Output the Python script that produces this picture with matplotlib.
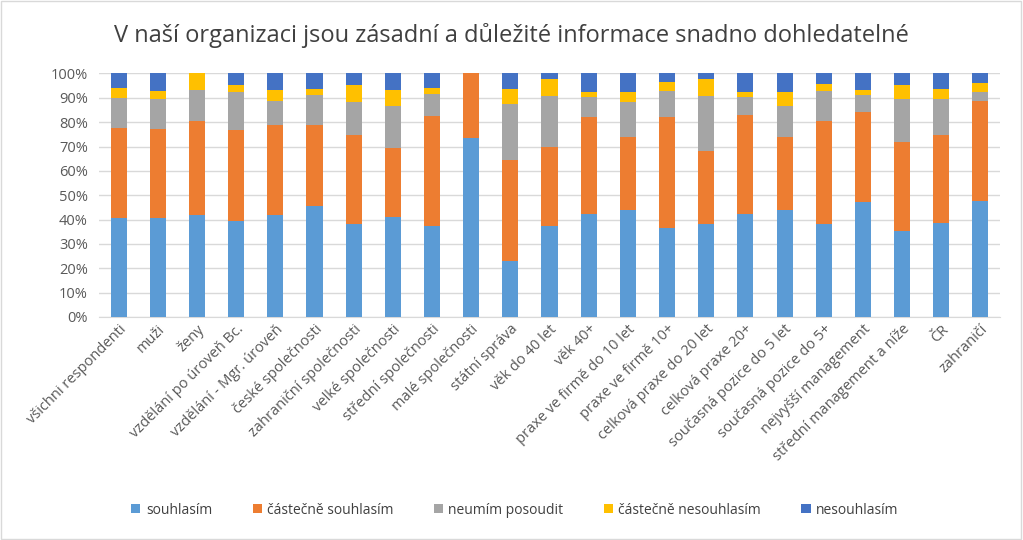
import matplotlib.pyplot as plt
import numpy as np
from matplotlib.patches import Rectangle
from matplotlib.ticker import PercentFormatter

plt.rcParams['font.family'] = ['Open Sans', 'DejaVu Sans']

categories = ['všichni respondenti', 'muži', 'ženy', 'vzdělání po úroveň Bc.',
              'vzdělání - Mgr. úroveň', 'české společnosti', 'zahraniční společnosti',
              'velké společnosti', 'střední společnosti', 'malé společnosti',
              'státní správa', 'věk do 40 let', 'věk 40+', 'praxe ve firmě do 10 let',
              'praxe ve firmě 10+', 'celková praxe do 20 let', 'celková praxe 20+',
              'současná pozice do 5 let', 'současná pozice do 5+', 'nejvyšší management',
              'střední management a níže', 'ČR', 'zahraničí']

souhlasim = [40.5, 40.7, 41.9, 39.6, 41.9, 45.7, 38.0, 41.1, 37.2, 73.5, 23.1, 37.2,
             42.4, 44.1, 36.5, 38.0, 42.2, 44.1, 38.0, 47.1, 35.2, 38.6, 47.8]
castecne_souhlasim = [37.1, 36.4, 38.7, 37.0, 37.1, 33.3, 36.6, 28.3, 45.4, 26.5, 41.5, 32.4,
                      39.7, 29.9, 45.6, 30.1, 40.9, 29.9, 42.6, 37.1, 36.7, 36.1, 40.9]
neumim = [12.5, 12.2, 12.8, 15.6, 9.6, 12.3, 13.7, 17.3, 8.9, 0.0, 23.0, 21.1,
          8.3, 14.3, 10.8, 22.6, 7.3, 12.7, 12.3, 7.1, 17.4, 15.0, 3.6]
castecne_nesouhlasim = [4.0, 3.3, 6.6, 3.1, 4.7, 2.2, 6.9, 6.4, 2.6, 0.0, 6.1, 7.0,
                        2.0, 4.1, 3.7, 7.0, 2.0, 5.7, 2.7, 1.8, 6.0, 4.0, 3.7]
nesouhlasim = [5.9, 7.4, 0.0, 4.7, 6.7, 6.5, 4.8, 6.9, 5.9, 0.0, 6.3, 2.3,
               7.6, 7.6, 3.4, 2.3, 7.6, 7.6, 4.4, 6.9, 4.7, 6.3, 4.0]

series = [('souhlasím', souhlasim, '#5B9BD5'),
          ('částečně souhlasím', castecne_souhlasim, '#ED7D31'),
          ('neumím posoudit', neumim, '#A5A5A5'),
          ('částečně nesouhlasím', castecne_nesouhlasim, '#FFC000'),
          ('nesouhlasím', nesouhlasim, '#4472C4')]

fig = plt.figure(figsize=(10.23, 5.4), dpi=100)
ax = fig.add_axes([0.0968, 0.413, 0.8807, 0.451])

x = np.arange(len(categories))
bottom = np.zeros(len(categories))
for name, vals, col in series:
    vals = np.array(vals)
    ax.bar(x, vals, 0.41, bottom=bottom, color=col, label=name, zorder=3)
    bottom += vals

ax.set_xlim(-0.5, len(categories) - 0.5)
ax.set_ylim(0, 100)
ax.set_yticks(np.arange(0, 101, 10))
ax.yaxis.set_major_formatter(PercentFormatter(decimals=0))
ax.grid(axis='y', color='#D9D9D9', linewidth=1, zorder=0)
for s in ['top', 'right', 'left']:
    ax.spines[s].set_visible(False)
ax.spines['bottom'].set_color('#D9D9D9')
ax.tick_params(length=0, colors='#595959', labelsize=10.5)
ax.tick_params(axis='y', pad=8)
ax.set_xticks(x)
ax.set_xticklabels(categories, rotation=45, ha='right', rotation_mode='anchor')

fig.text(0.5, 1 - 35 / 540, 'V naší organizaci jsou zásadní a důležité informace snadno dohledatelné',
         ha='center', va='center', fontsize=17, color='#404040')

fig.legend(loc='center', bbox_to_anchor=(515 / 1023, 1 - 510 / 540), ncol=5, frameon=False,
           fontsize=10, handlelength=0.65, handleheight=0.65, handletextpad=0.4,
           columnspacing=2.9, labelcolor='#404040')

fig.patches.append(Rectangle((0.001, 0.002), 0.997, 0.996, transform=fig.transFigure,
                             fill=False, edgecolor='#D9D9D9', linewidth=1))

fig.savefig('out.png', dpi=100)
